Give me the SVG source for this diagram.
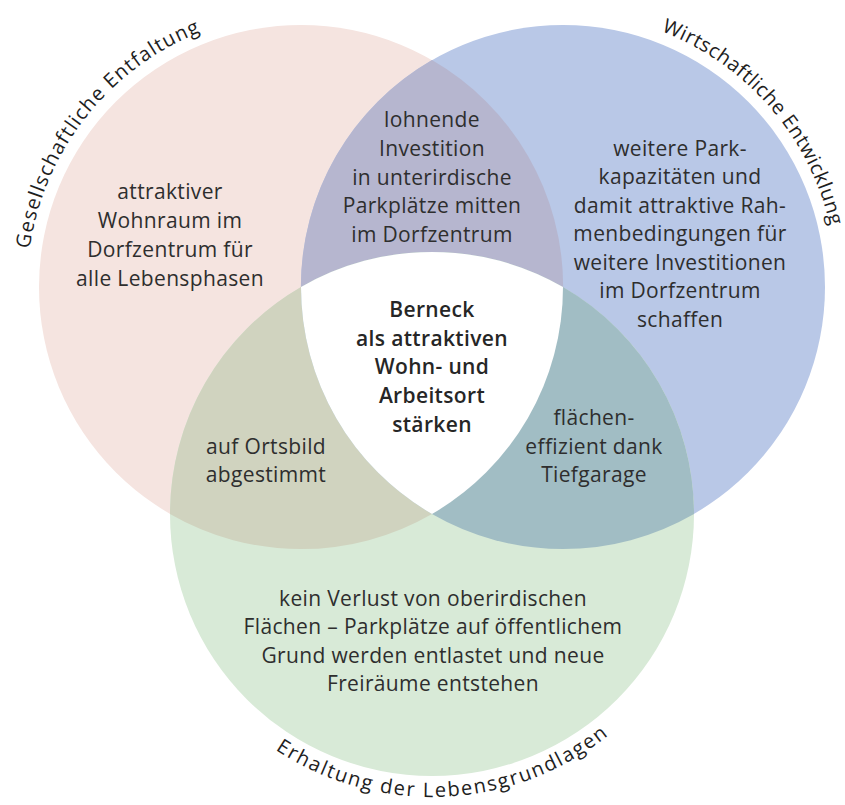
<svg xmlns="http://www.w3.org/2000/svg" xmlns:xlink="http://www.w3.org/1999/xlink" width="845" height="805" viewBox="0 0 845 805">
  <style>
    .txt { font-family: "Open Sans", "Liberation Sans", sans-serif; font-size: 21px; fill: #2e2e2e; text-anchor: middle; letter-spacing: 0.35px; }
    .core { font-weight: 600; fill: #262626; }
    .ring { font-family: "Open Sans", "Liberation Sans", sans-serif; font-size: 20px; fill: #1e1e1e; }
  </style>
  <defs>
    <!-- baselines for the curved set titles (r = 274 / 283 around the set centres) -->
    <path id="arc-gesellschaft" d="M29.7,248.9 A274,274 0 0 1 202.8,31.2"/>
    <path id="arc-wirtschaft" d="M661.2,31.2 A274,274 0 0 1 830.5,227.7"/>
    <path id="arc-leben" d="M275.4,749.7 A283,283 0 0 0 610.5,733.6"/>
  </defs>

  <rect width="845" height="805" fill="#ffffff"/>

  <!-- set: social development -->
  <g id="set-gesellschaft">
    <circle cx="301" cy="287" r="262" fill="#f5e4e0"/>
    <text class="ring"><textPath xlink:href="#arc-gesellschaft" href="#arc-gesellschaft" textLength="289" lengthAdjust="spacing">Gesellschaftliche Entfaltung</textPath></text>
  </g>

  <!-- set: economic development -->
  <g id="set-wirtschaft">
    <circle cx="563" cy="287" r="262" fill="#b9c8e7"/>
    <text class="ring"><textPath xlink:href="#arc-wirtschaft" href="#arc-wirtschaft" textLength="268" lengthAdjust="spacing">Wirtschaftliche Entwicklung</textPath></text>
  </g>

  <!-- set: preserving livelihoods -->
  <g id="set-lebensgrundlagen">
    <circle cx="432" cy="514" r="262" fill="#d8ead7"/>
    <text class="ring"><textPath xlink:href="#arc-leben" href="#arc-leben" textLength="356" lengthAdjust="spacing">Erhaltung der Lebensgrundlagen</textPath></text>
  </g>

  <!-- pairwise overlaps -->
  <g id="overlap-gesellschaft-wirtschaft">
    <path d="M432,60 A262,262 0 0 1 432,514 A262,262 0 0 1 432,60 Z" fill="#b6b6cf"/>
  </g>
  <g id="overlap-gesellschaft-leben">
    <path d="M563,287 A262,262 0 0 1 170,514 A262,262 0 0 1 563,287 Z" fill="#d0d3bf"/>
  </g>
  <g id="overlap-wirtschaft-leben">
    <path d="M301,287 A262,262 0 0 0 694,514 A262,262 0 0 0 301,287 Z" fill="#a1bdc4"/>
  </g>

  <!-- common core (Reuleaux triangle through the three centres) -->
  <g id="core">
    <path d="M301,287 A262,262 0 0 1 563,287 A262,262 0 0 1 432,514 A262,262 0 0 1 301,287 Z" fill="#ffffff"/>
  </g>

  <!-- region texts -->
  <g id="text-gesellschaft" class="txt">
    <text x="170" y="199">attraktiver</text>
    <text x="170" y="228">Wohnraum im</text>
    <text x="170" y="257">Dorfzentrum für</text>
    <text x="170" y="286">alle Lebensphasen</text>
  </g>
  <g id="text-gesellschaft-wirtschaft" class="txt">
    <text x="432" y="127">lohnende</text>
    <text x="432" y="156">Investition</text>
    <text x="432" y="184.5">in unterirdische</text>
    <text x="432" y="213">Parkplätze mitten</text>
    <text x="432" y="242">im Dorfzentrum</text>
  </g>
  <g id="text-wirtschaft" class="txt">
    <text x="680" y="155.5">weitere Park-</text>
    <text x="680" y="184">kapazitäten und</text>
    <text x="680" y="212.5">damit attraktive Rah-</text>
    <text x="680" y="241">menbedingungen für</text>
    <text x="680" y="269.5">weitere Investitionen</text>
    <text x="680" y="298">im Dorfzentrum</text>
    <text x="680" y="326.5">schaffen</text>
  </g>
  <g id="text-core" class="txt core">
    <text x="432" y="317">Berneck</text>
    <text x="432" y="346">als attraktiven</text>
    <text x="432" y="374">Wohn- und</text>
    <text x="432" y="403">Arbeitsort</text>
    <text x="432" y="432">stärken</text>
  </g>
  <g id="text-gesellschaft-leben" class="txt">
    <text x="266" y="453.5">auf Ortsbild</text>
    <text x="266" y="482">abgestimmt</text>
  </g>
  <g id="text-wirtschaft-leben" class="txt">
    <text x="594" y="425">flächen-</text>
    <text x="594" y="453.5">effizient dank</text>
    <text x="594" y="482">Tiefgarage</text>
  </g>
  <g id="text-leben" class="txt">
    <text x="433" y="606">kein Verlust von oberirdischen</text>
    <text x="433" y="634">Flächen – Parkplätze auf öffentlichem</text>
    <text x="433" y="662.5">Grund werden entlastet und neue</text>
    <text x="433" y="691">Freiräume entstehen</text>
  </g>
</svg>
